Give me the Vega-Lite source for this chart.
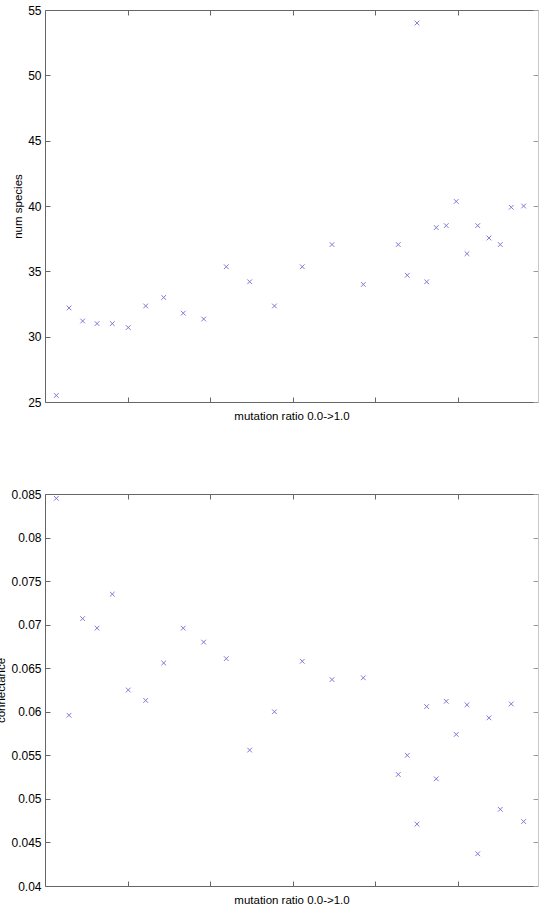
{
  "$schema": "https://vega.github.io/schema/vega-lite/v6.json",
  "padding": {"left": -5, "top": 4, "right": 0, "bottom": 0},
  "background": "white",
  "config": {
    "view": {"stroke": null},
    "font": "Liberation Sans",
    "axis": {
      "domainColor": "#666666",
      "tickColor": "#666666",
      "grid": false,
      "tickSize": -5,
      "labelFontSize": 12,
      "labelColor": "#000000",
      "labelFont": "Liberation Sans",
      "titleFont": "Liberation Sans",
      "titleFontSize": 11.5,
      "titleFontWeight": "normal",
      "titleColor": "#000000"
    }
  },
  "datasets": {
    "d": [
      {"x": 0.137, "species": 25.5, "connectance": 0.0845},
      {"x": 0.291, "species": 32.2, "connectance": 0.0596},
      {"x": 0.456, "species": 31.2, "connectance": 0.0707},
      {"x": 0.630, "species": 31.0, "connectance": 0.0696},
      {"x": 0.815, "species": 31.0, "connectance": 0.0735},
      {"x": 1.008, "species": 30.7, "connectance": 0.0625},
      {"x": 1.219, "species": 32.35, "connectance": 0.0613},
      {"x": 1.437, "species": 33.0, "connectance": 0.0656},
      {"x": 1.674, "species": 31.8, "connectance": 0.0696},
      {"x": 1.921, "species": 31.35, "connectance": 0.0680},
      {"x": 2.195, "species": 35.35, "connectance": 0.0661},
      {"x": 2.478, "species": 34.2, "connectance": 0.0556},
      {"x": 2.778, "species": 32.35, "connectance": 0.0600},
      {"x": 3.115, "species": 35.35, "connectance": 0.0658},
      {"x": 3.475, "species": 37.05, "connectance": 0.0637},
      {"x": 3.854, "species": 34.0, "connectance": 0.0639},
      {"x": 4.277, "species": 37.05, "connectance": 0.0528},
      {"x": 4.386, "species": 34.7, "connectance": 0.0550},
      {"x": 4.504, "species": 54.0, "connectance": 0.0471},
      {"x": 4.621, "species": 34.2, "connectance": 0.0606},
      {"x": 4.737, "species": 38.35, "connectance": 0.0523},
      {"x": 4.858, "species": 38.5, "connectance": 0.0612},
      {"x": 4.979, "species": 40.35, "connectance": 0.0574},
      {"x": 5.109, "species": 36.35, "connectance": 0.0608},
      {"x": 5.239, "species": 38.5, "connectance": 0.0437},
      {"x": 5.375, "species": 37.55, "connectance": 0.0593},
      {"x": 5.512, "species": 37.05, "connectance": 0.0488},
      {"x": 5.645, "species": 39.9, "connectance": 0.0609},
      {"x": 5.795, "species": 40.0, "connectance": 0.0474}
    ]
  },
  "spacing": 66,
  "vconcat": [
    {
      "width": 493,
      "height": 392,
      "data": {"name": "d"},
      "resolve": {"axis": {"x": "independent", "y": "independent"}},
      "layer": [
        {
          "mark": {"type": "point", "shape": "M-1,-1L1,1M-1,1L1,-1", "size": 22, "filled": false, "strokeWidth": 1, "color": "#7b7bd8", "opacity": 1},
          "encoding": {
            "x": {"field": "x", "type": "quantitative", "scale": {"domain": [0, 5.969], "nice": false, "zero": false},
                  "axis": {"orient": "bottom", "labels": false, "values": [1, 2, 3, 4, 5], "title": "mutation ratio 0.0->1.0", "titlePadding": 8}},
            "y": {"field": "species", "type": "quantitative", "scale": {"domain": [25, 55], "nice": false, "zero": false},
                  "axis": {"orient": "left", "values": [25, 30, 35, 40, 45, 50, 55], "format": "d", "title": "num species", "labelPadding": 9, "titlePadding": 4}}
          }
        },
        {
          "mark": {"type": "point", "opacity": 0},
          "encoding": {
            "x": {"field": "x", "type": "quantitative", "scale": {"domain": [0, 5.969], "nice": false, "zero": false},
                  "axis": {"orient": "top", "labels": false, "values": [1, 2, 3, 4, 5], "title": null}},
            "y": {"field": "species", "type": "quantitative", "scale": {"domain": [25, 55], "nice": false, "zero": false},
                  "axis": {"orient": "right", "labels": false, "values": [25, 30, 35, 40, 45, 50, 55], "title": null, "domainColor": "#c8c8c8", "tickColor": "#999999"}}
          }
        }
      ]
    },
    {
      "width": 493,
      "height": 392,
      "data": {"name": "d"},
      "resolve": {"axis": {"x": "independent", "y": "independent"}},
      "layer": [
        {
          "mark": {"type": "point", "shape": "M-1,-1L1,1M-1,1L1,-1", "size": 22, "filled": false, "strokeWidth": 1, "color": "#7b7bd8", "opacity": 1},
          "encoding": {
            "x": {"field": "x", "type": "quantitative", "scale": {"domain": [0, 5.969], "nice": false, "zero": false},
                  "axis": {"orient": "bottom", "labels": false, "values": [1, 2, 3, 4, 5], "title": "mutation ratio 0.0->1.0", "titlePadding": 8}},
            "y": {"field": "connectance", "type": "quantitative", "scale": {"domain": [0.04, 0.085], "nice": false, "zero": false},
                  "axis": {"orient": "left", "values": [0.04, 0.045, 0.05, 0.055, 0.06, 0.065, 0.07, 0.075, 0.08, 0.085], "format": "~g", "title": "connectance", "labelPadding": 9, "titlePadding": 4}}
          }
        },
        {
          "mark": {"type": "point", "opacity": 0},
          "encoding": {
            "x": {"field": "x", "type": "quantitative", "scale": {"domain": [0, 5.969], "nice": false, "zero": false},
                  "axis": {"orient": "top", "labels": false, "values": [1, 2, 3, 4, 5], "title": null}},
            "y": {"field": "connectance", "type": "quantitative", "scale": {"domain": [0.04, 0.085], "nice": false, "zero": false},
                  "axis": {"orient": "right", "labels": false, "values": [0.04, 0.045, 0.05, 0.055, 0.06, 0.065, 0.07, 0.075, 0.08, 0.085], "title": null, "domainColor": "#c8c8c8", "tickColor": "#999999"}}
          }
        }
      ]
    }
  ]
}
